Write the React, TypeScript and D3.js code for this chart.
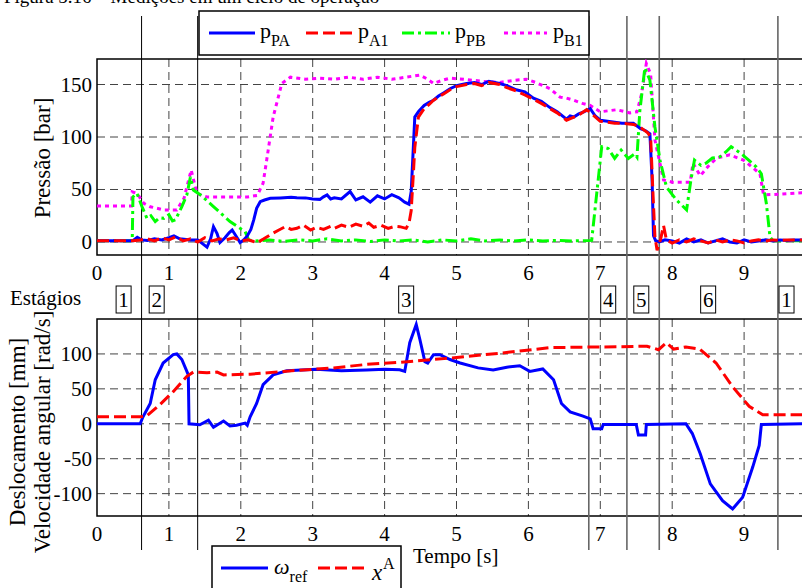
import React from 'react';
import * as d3 from 'd3';

// series: [time (s), value]
const pPA = [[0,1.2],[0.5,1.2],[0.56,4.4],[0.62,2],[0.7,1.5],[0.8,3],[0.9,2],[1.0,4],[1.07,5.7],[1.15,3],[1.3,1.9],[1.4,2],[1.53,-5],[1.58,3],[1.62,14.6],[1.67,8],[1.71,-0.6],[1.78,4],[1.84,9],[1.88,11.4],[1.94,5],[1.99,-0.6],[2.04,2],[2.09,5.8],[2.14,12],[2.18,21],[2.22,32],[2.27,38.4],[2.33,40],[2.41,41.6],[2.55,42],[2.7,42.5],[2.78,42.2],[2.9,42],[3.0,41],[3.1,40.6],[3.15,43],[3.2,44.8],[3.25,41],[3.3,42],[3.4,41],[3.52,48],[3.6,40],[3.7,43],[3.8,38],[3.9,44],[4.0,41],[4.1,45],[4.2,42],[4.28,38],[4.34,36],[4.37,48],[4.42,119],[4.47,124],[4.55,130],[4.62,133],[4.68,135],[4.75,139],[4.82,142],[4.91,146],[5.0,149],[5.14,151],[5.25,152],[5.35,150],[5.45,153],[5.6,151],[5.7,149],[5.83,145],[5.95,143],[6.07,137],[6.18,134],[6.3,128],[6.4,124],[6.53,117],[6.58,120],[6.63,119],[6.7,122],[6.77,124],[6.86,127],[6.93,120],[7.0,116],[7.1,115],[7.2,114],[7.3,113],[7.46,113],[7.56,108],[7.63,106],[7.69,103],[7.72,60],[7.74,6],[7.77,1.2],[7.82,0],[7.9,2],[8.0,1],[8.1,-1],[8.2,3],[8.3,0],[8.4,2],[8.5,-1],[8.6,1],[8.7,3],[8.8,0],[8.9,-1],[9.0,2],[9.1,0],[9.2,1],[9.3,2],[9.4,1],[9.5,2],[9.6,1.5],[9.7,2],[9.85,2]];
const pA1 = [[0,1.2],[0.5,1.2],[0.6,1.9],[0.7,3],[0.8,1],[0.9,4],[1.0,2],[1.1,5],[1.2,1],[1.3,3],[1.4,0],[1.5,4],[1.6,1],[1.7,3],[1.8,2],[1.9,4],[2.0,1],[2.1,2],[2.23,-0.6],[2.32,3],[2.41,6.9],[2.53,11.4],[2.62,14.6],[2.7,12],[2.78,13],[2.87,16],[2.97,11.4],[3.05,14],[3.15,12],[3.25,15],[3.3,13],[3.4,16],[3.5,14],[3.6,17],[3.7,15],[3.78,18],[3.85,14],[3.95,16],[4.05,13],[4.15,15],[4.21,14.6],[4.3,13],[4.34,18],[4.37,30],[4.4,65],[4.42,90],[4.47,119],[4.55,127],[4.62,131],[4.68,135],[4.75,138],[4.82,141],[4.91,145],[5.0,148],[5.14,150],[5.25,151],[5.35,149],[5.45,152],[5.6,150],[5.7,147],[5.83,144],[5.95,140],[6.07,136],[6.18,132],[6.3,127],[6.4,123],[6.53,116],[6.6,118],[6.7,121],[6.81,126],[6.9,121],[7.0,115],[7.1,114],[7.2,113],[7.3,113],[7.46,112],[7.54,110],[7.6,107],[7.66,104],[7.7,100],[7.73,50],[7.76,5],[7.79,-8],[7.84,3],[7.88,15.6],[7.92,2],[8.0,-1],[8.1,2],[8.2,0],[8.3,3],[8.4,1],[8.5,-1],[8.6,2],[8.7,0],[8.8,2],[8.9,1],[9.0,-1],[9.1,1],[9.2,2],[9.3,1],[9.4,2],[9.5,1.5],[9.6,2],[9.85,2]];
const pPB = [[0,1.2],[0.49,1.2],[0.5,43],[0.556,46.3],[0.626,33.7],[0.695,22.5],[0.75,25],[0.81,19.4],[0.87,23],[0.93,22.5],[1.0,26],[1.05,20],[1.09,21],[1.18,33.7],[1.25,45],[1.3,62],[1.34,49.5],[1.44,44.8],[1.62,33.7],[1.85,19.4],[1.99,13],[2.06,10],[2.11,1.9],[2.2,1],[2.4,2],[2.6,0.5],[2.8,2],[3.0,1],[3.2,3],[3.4,1],[3.6,2],[3.8,0.5],[4.0,2],[4.2,1],[4.4,2],[4.6,0],[4.8,2],[5.0,1],[5.2,3],[5.4,1],[5.6,2],[5.8,1],[6.0,2],[6.2,1],[6.4,1.5],[6.6,1],[6.88,1.5],[6.95,46],[7.02,90.8],[7.11,89],[7.2,79.6],[7.29,87.6],[7.39,79.6],[7.48,84],[7.51,81],[7.55,125],[7.62,166],[7.69,154],[7.76,109.5],[7.83,78],[7.92,52.4],[8.06,40],[8.2,30.5],[8.26,59],[8.31,78],[8.4,73],[8.47,75],[8.56,80],[8.66,81],[8.75,86],[8.82,90.8],[8.9,87],[8.98,83],[9.08,77],[9.17,71.4],[9.24,65],[9.31,36.5],[9.36,5],[9.4,1.2],[9.85,1.2]];
const pB1 = [[0,34.3],[0.48,34.3],[0.49,47.8],[0.56,46],[0.65,36.8],[0.74,33.6],[0.93,30.5],[1.11,30.5],[1.21,41.6],[1.31,68.6],[1.39,46],[1.53,42.9],[2.09,42.9],[2.23,44.4],[2.31,56],[2.36,78],[2.45,119],[2.57,151],[2.69,157],[2.9,155],[3.1,156],[3.3,155],[3.5,157],[3.7,155],[3.9,157],[4.1,155],[4.3,157],[4.49,159],[4.6,155],[4.68,151],[4.8,154],[4.91,156],[5.1,155],[5.37,153],[5.6,152],[5.8,154],[5.97,155],[6.1,152],[6.3,146],[6.44,138],[6.53,137],[6.63,135],[6.75,132],[6.86,130],[7.0,124],[7.23,126],[7.41,123],[7.51,124],[7.57,140],[7.64,170],[7.7,160],[7.76,97],[7.88,59],[8.0,57],[8.25,57],[8.29,75],[8.39,63],[8.5,72],[8.62,80],[8.8,83],[8.99,78],[9.1,72],[9.22,65],[9.27,45],[9.5,45.5],[9.85,47]];

const omegaRef = [[0,0],[0.6,0],[0.64,10],[0.74,29],[0.81,63],[0.92,87],[1.06,99],[1.11,100],[1.18,92],[1.27,70],[1.28,0],[1.43,-1.5],[1.55,5],[1.62,-5],[1.76,4],[1.85,-3],[1.94,-2],[2.06,1],[2.09,-2],[2.13,10],[2.22,29],[2.31,56],[2.45,70],[2.64,76],[3.05,78],[3.4,76],[3.75,77],[4.0,78],[4.21,77.4],[4.28,75],[4.35,116],[4.44,142],[4.49,121],[4.56,89],[4.6,87],[4.68,99],[4.77,99],[4.91,92],[5.05,87],[5.3,80],[5.51,77],[5.7,81],[5.88,83],[6.02,75],[6.2,78.5],[6.35,63],[6.46,29],[6.58,17],[6.76,11],[6.86,7],[6.9,-7],[7.02,-7],[7.04,-1],[7.5,-1],[7.53,-16],[7.63,-16],[7.64,-1],[8.19,0],[8.28,-14],[8.39,-43],[8.53,-86],[8.7,-110],[8.84,-122],[8.98,-105],[9.12,-62],[9.21,-31],[9.24,-1],[9.85,0]];
const xA = [[0,10],[0.6,10],[0.69,11],[0.87,27],[1.06,46],[1.25,68],[1.34,74],[1.53,73],[1.67,74],[1.76,70],[2.13,71],[2.59,75],[3.29,80],[3.75,85],[4.21,88],[4.91,94],[5.6,101],[6.3,109],[7.0,110],[7.65,111],[7.81,106],[7.92,116],[8.02,107],[8.19,110],[8.38,107],[8.61,87],[8.84,53],[9.07,25],[9.26,13],[9.85,13]];

const xTicks = [0, 1, 2, 3, 4, 5, 6, 7, 8, 9];
const topYTicks = [0, 50, 100, 150];
const botYTicks = [-100, -50, 0, 50, 100];
const stageBounds = [0.62, 1.4, 6.84, 7.37, 7.82, 9.47];
const stageLabels = ['1', '2', '3', '4', '5', '6', '1'];
const stageCenters = [0.37, 0.83, 4.3, 7.11, 7.57, 8.5, 9.59];

const FONT = "'Liberation Serif', 'Times New Roman', Times, serif";

const App = () => {
  const x = d3.scaleLinear().domain([0, 10]).range([97, 816]);
  const yTop = d3.scaleLinear().domain([-12.4, 174.3]).range([255, 59]);
  const yBot = d3.scaleLinear().domain([-132, 150]).range([516, 319]);

  const lineTop = d3.line<number[]>().x(d => x(d[0])).y(d => yTop(d[1]));
  const lineBot = d3.line<number[]>().x(d => x(d[0])).y(d => yBot(d[1]));

  const plotPanel = (y: any, yTicks: number[], key: string) => {
    const [y0, y1] = y.range();
    return (
      <g key={key}>
        {xTicks.slice(1).map(t => (
          <line key={'vx' + t} x1={x(t)} x2={x(t)} y1={y1} y2={y0}
            stroke="#444" strokeWidth={1} strokeDasharray="8,5" />
        ))}
        {yTicks.map(v => (
          <line key={'hy' + v} x1={x(0)} x2={816} y1={y(v)} y2={y(v)}
            stroke="#444" strokeWidth={1} strokeDasharray="8,5" />
        ))}
        <path d={`M816,${y1}H${x(0)}V${y0}H816`} fill="none" stroke="#000" strokeWidth={1.5} />
        {yTicks.map(v => (
          <text key={'yl' + v} x={92} y={y(v) + 7} textAnchor="end" fontSize={21}>{v}</text>
        ))}
        {xTicks.map(t => (
          <text key={'xl' + t} x={x(t)} y={y0 + 25} textAnchor="middle" fontSize={21}>{t}</text>
        ))}
      </g>
    );
  };

  const sub = (base: string, s: string, xPos: number, yBase: number, italic = false) => (
    <text x={xPos} y={yBase} fontSize={22} fontStyle={italic ? 'italic' : 'normal'}>
      {base}
      <tspan fontSize={16} dy={8} fontStyle="normal">{s}</tspan>
    </text>
  );

  return (
    <svg width={802} height={588}
      style={{ position: 'absolute', left: 0, top: 0, background: '#fff', fontFamily: FONT }}>
      <defs>
        <clipPath id="clipTop"><rect x={97} y={59} width={720} height={196} /></clipPath>
        <clipPath id="clipBot"><rect x={97} y={319} width={720} height={197} /></clipPath>
      </defs>
      <rect width={802} height={588} fill="#fff" />

      {/* caption, mostly cut off at the top */}
      <text x={4} y={3} fontSize={19}>Figura 5.16 – Medições em um ciclo de operação</text>

      {plotPanel(yTop, topYTicks, 'top')}
      {plotPanel(yBot, botYTicks, 'bot')}

      {/* stage separators */}
      {stageBounds.map((t, i) => (
        <line key={'sb' + i} x1={x(t)} x2={x(t)} y1={16} y2={550}
          stroke={i < 2 ? '#000' : '#666'} strokeWidth={i < 2 ? 1 : 1.6} />
      ))}

      <g clipPath="url(#clipTop)" fill="none" strokeWidth={3}>
        <path d={lineTop(pB1) || ''} stroke="#ff00ff" strokeDasharray="4,4" />
        <path d={lineTop(pPB) || ''} stroke="#00ff00" strokeDasharray="12,4,3,4" />
        <path d={lineTop(pPA) || ''} stroke="#0000ff" />
        <path d={lineTop(pA1) || ''} stroke="#ff0000" strokeDasharray="12,5" />
      </g>
      <g clipPath="url(#clipBot)" fill="none" strokeWidth={3}>
        <path d={lineBot(omegaRef) || ''} stroke="#0000ff" />
        <path d={lineBot(xA) || ''} stroke="#ff0000" strokeDasharray="12,5" />
      </g>

      {/* y labels */}
      <text transform="translate(42,158) rotate(-90)" textAnchor="middle" dominantBaseline="central" fontSize={23}>Pressão [bar]</text>
      <text transform="translate(17,432) rotate(-90)" textAnchor="middle" dominantBaseline="central" fontSize={23}>Deslocamento [mm]</text>
      <text transform="translate(42,432) rotate(-90)" textAnchor="middle" dominantBaseline="central" fontSize={23}>Velocidade angular [rad/s]</text>

      {/* stages row */}
      <text x={10} y={305} fontSize={21}>Estágios</text>
      {stageLabels.map((s, i) => (
        <g key={'st' + i}>
          <rect x={x(stageCenters[i]) - 7.5} y={286} width={15} height={27} fill="#fff" stroke="#000" strokeWidth={1} />
          <text x={x(stageCenters[i])} y={307} textAnchor="middle" fontSize={21}>{s}</text>
        </g>
      ))}

      {/* top legend */}
      <rect x={199} y={11} width={390} height={44} fill="#fff" stroke="#000" strokeWidth={1.5} />
      <line x1={209} x2={255} y1={33} y2={33} stroke="#0000ff" strokeWidth={3} />
      {sub('p', 'PA', 260, 38)}
      <line x1={306} x2={353} y1={33} y2={33} stroke="#ff0000" strokeWidth={3} strokeDasharray="12,5" />
      {sub('p', 'A1', 358, 38)}
      <line x1={402} x2={450} y1={33} y2={33} stroke="#00ff00" strokeWidth={3} strokeDasharray="12,4,3,4" />
      {sub('p', 'PB', 455, 38)}
      <line x1={504} x2={547} y1={33} y2={33} stroke="#ff00ff" strokeWidth={3} strokeDasharray="4,4" />
      {sub('p', 'B1', 553, 38)}

      {/* bottom legend */}
      <rect x={212} y={546} width={189} height={60} fill="#fff" stroke="#000" strokeWidth={1.5} />
      <line x1={221} x2={268} y1={568} y2={568} stroke="#0000ff" strokeWidth={3} />
      {sub('ω', 'ref', 274, 574, true)}
      <line x1={318} x2={365} y1={568} y2={568} stroke="#ff0000" strokeWidth={3} strokeDasharray="12,5" />
      <text x={372} y={580} fontSize={23} fontStyle="italic">x</text>
      <text x={383} y={569} fontSize={16}>A</text>

      <text x={413} y={563} fontSize={21}>Tempo [s]</text>
    </svg>
  );
};

export default App;
